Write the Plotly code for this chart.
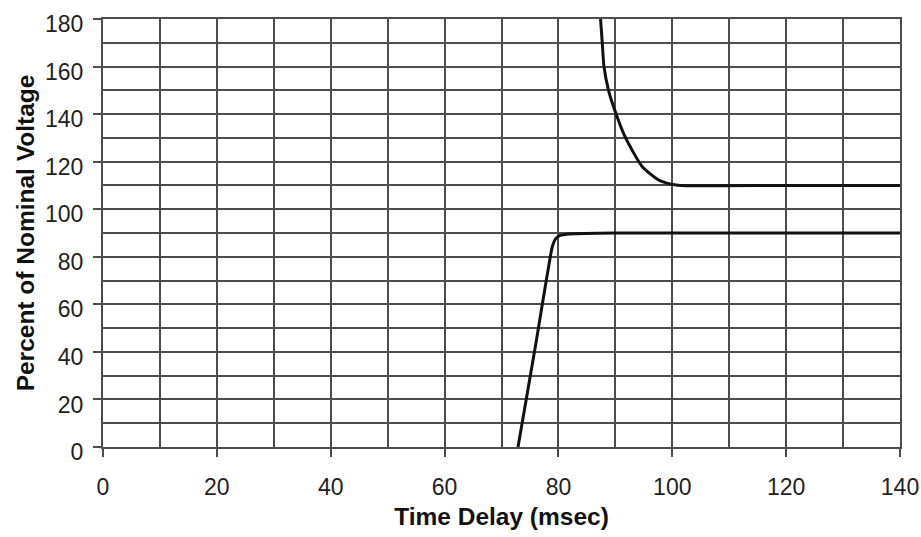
import plotly.graph_objects as go

# Upper limit curve (overvoltage)
upper_x = [87.4, 87.7, 88.0, 88.8, 89.7, 91.7, 94.7, 97.6, 99.9, 101.5, 120, 140]
upper_y = [180, 170, 160, 150, 143, 130.5, 118, 112.3, 110.5, 110, 110, 110]

# Lower limit curve (undervoltage)
lower_x = [72.9, 76.0, 78.9, 79.5, 80.3, 82.0, 90.0, 140]
lower_y = [0, 43, 84, 87.5, 89, 89.6, 90, 90]

x_ticks = [0, 20, 40, 60, 80, 100, 120, 140]
y_ticks = [0, 20, 40, 60, 80, 100, 120, 140, 160, 180]

FONT = "Liberation Sans, Arial, sans-serif"
GRID = "#4d4d4d"

fig = go.Figure()
fig.add_trace(go.Scatter(x=upper_x, y=upper_y, mode="lines",
                         line=dict(color="#111111", width=3, shape="spline", smoothing=0.6),
                         showlegend=False, hoverinfo="skip"))
fig.add_trace(go.Scatter(x=lower_x, y=lower_y, mode="lines",
                         line=dict(color="#111111", width=3, shape="spline", smoothing=0.4),
                         showlegend=False, hoverinfo="skip"))

fig.update_layout(
    width=921, height=537,
    margin=dict(l=103, r=21, t=19, b=90),
    paper_bgcolor="white", plot_bgcolor="white",
    font=dict(family=FONT, color="#222222"),
    xaxis=dict(
        range=[0, 140], tickvals=x_ticks, ticktext=[str(v) for v in x_ticks],
        ticks="outside", ticklen=8, tickwidth=2, tickcolor=GRID,
        tickfont=dict(size=23, family=FONT, color="#222222"),
        ticklabelstandoff=10, automargin=False,
        showgrid=True, gridcolor=GRID, gridwidth=2,
        minor=dict(dtick=10, tick0=0, showgrid=True, gridcolor=GRID, gridwidth=2, ticks=""),
        showline=True, linecolor=GRID, linewidth=2, mirror=True,
        zeroline=False,
        title=dict(text="<b>Time Delay (msec)</b>", font=dict(size=24.5, family=FONT, color="#111111"), standoff=9),
    ),
    yaxis=dict(
        range=[0, 180], tickvals=y_ticks, ticktext=[str(v) for v in y_ticks],
        ticks="outside", ticklen=8, tickwidth=2, tickcolor=GRID,
        tickfont=dict(size=23, family=FONT, color="#222222"),
        ticklabelstandoff=5, ticklabelshift=5, automargin=False,
        showgrid=True, gridcolor=GRID, gridwidth=2,
        minor=dict(dtick=10, tick0=0, showgrid=True, gridcolor=GRID, gridwidth=2, ticks=""),
        showline=True, linecolor=GRID, linewidth=2, mirror=True,
        zeroline=False,
        title=dict(text="<b>Percent of Nominal Voltage</b>", font=dict(size=24.5, family=FONT, color="#111111"), standoff=3),
    ),
)

fig.write_html("out.html", config={"displayModeBar": False},
               post_script="document.body.style.margin='0';document.body.style.overflow='hidden';")
